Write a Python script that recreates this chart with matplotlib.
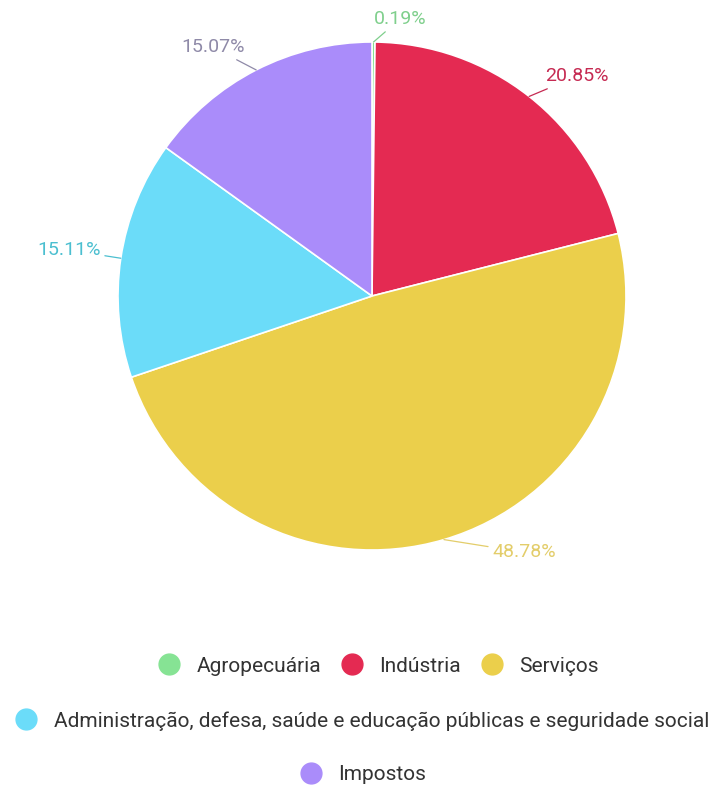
import numpy as np
import matplotlib
matplotlib.use("Agg")
import matplotlib.pyplot as plt
from matplotlib.lines import Line2D

plt.rcParams['font.family'] = ['Roboto', 'DejaVu Sans']

categories = ["Agropecuária", "Indústria", "Serviços",
              "Administração, defesa, saúde e educação públicas e seguridade social",
              "Impostos"]
shares = [0.19, 20.85, 48.78, 15.11, 15.07]
slice_colors = ["#86e394", "#e42a52", "#ebcf4b", "#6bdcf9", "#aa8cfa"]
label_colors = ["#7fcf8c", "#c62a52", "#e3cd6a", "#4bbfd0", "#8f8aa8"]
label_texts = [f"{v:.2f}%" for v in shares]

W, H = 715, 791
cx, cy, R = 372, 296, 254

fig = plt.figure(figsize=(W / 100, H / 100), dpi=100)
ax = fig.add_axes([0, 0, 1, 1])

wedges, _ = ax.pie(shares, colors=slice_colors, startangle=90, counterclock=False,
                   radius=1, center=(0, 0), frame=True,
                   wedgeprops=dict(edgecolor='white', linewidth=1.2))
ax.set_xlim(-cx / R, (W - cx) / R)
ax.set_ylim(-(H - cy) / R, cy / R)
ax.set_aspect('equal')
ax.axis('off')

# label distance and nudges (in radius units) for each slice label
label_dist = [1.09, 1.10, 1.0, 1.08, 1.10]
label_nudge = [(0.0, 0.0), (0.0, 0.0), (0.19, -0.05), (0.0, 0.02), (0.0, 0.0)]

for w, txt, col, d, (nx, ny) in zip(wedges, label_texts, label_colors, label_dist, label_nudge):
    mid = np.deg2rad((w.theta1 + w.theta2) / 2)
    ex, ey = np.cos(mid), np.sin(mid)
    tx, ty = d * ex + nx, d * ey + ny
    ha = 'left' if ex >= -0.01 else 'right'
    ax.annotate(txt, xy=(ex, ey), xytext=(tx, ty), ha=ha, va='center',
                fontsize=14, color=col,
                arrowprops=dict(arrowstyle='-', color=col, lw=0.9,
                                shrinkA=1, shrinkB=0))

def handle(i):
    return Line2D([], [], marker='o', linestyle='none', markersize=15,
                  markerfacecolor=slice_colors[i], markeredgecolor=slice_colors[i])

rows = [([0, 1, 2], 0.530, 1 - 666 / H),
        ([3], 0.507, 1 - 721 / H),
        ([4], 0.508, 1 - 775 / H)]
for idx, x, y in rows:
    leg = fig.legend([handle(i) for i in idx], [categories[i] for i in idx],
                     loc='center', bbox_to_anchor=(x, y), ncol=len(idx),
                     frameon=False, fontsize=15, handlelength=1.0,
                     handletextpad=0.8, columnspacing=1.0)
    for t in leg.get_texts():
        t.set_color('#333333')

fig.savefig("out.png", dpi=100, facecolor='white')
